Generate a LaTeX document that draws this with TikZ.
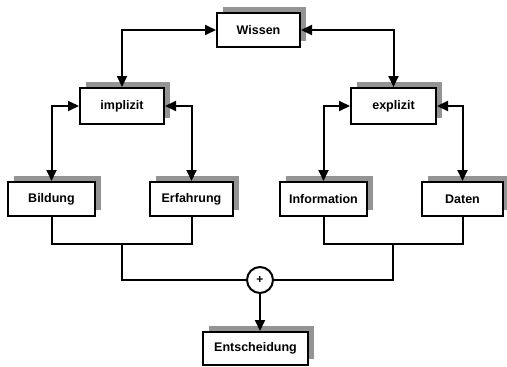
\documentclass[tikz,border=0pt]{standalone}
\usepackage{fontspec}
\setmainfont{Liberation Sans}
\usetikzlibrary{arrows.meta,shadows}
\tikzset{
  box/.style={draw=black, line width=2pt, fill=white, rectangle, minimum height=34pt,
    inner sep=0pt, font=\bfseries\fontsize{12.5}{14}\selectfont,
    general shadow={fill=black!42, shadow xshift=6pt, shadow yshift=6pt}},
  conn/.style={line width=2pt},
  tip/.style={-{Triangle[length=11pt,width=10pt]}},
  tips/.style={{Triangle[length=11pt,width=10pt]}-{Triangle[length=11pt,width=10pt]}},
  sumnode/.style={draw=black, line width=2pt, circle, minimum size=26pt, inner sep=0pt, fill=white,
    font=\bfseries\fontsize{12}{14}\selectfont}
}
\begin{document}
\begin{tikzpicture}[x=1pt,y=-1pt]
\useasboundingbox (0,0) rectangle (507,367);
\node[box, minimum width=83pt, minimum height=34pt] (wissen) at (258.5,30) {Wissen};
\node[box, minimum width=84pt, minimum height=36pt] (impl) at (122,106) {implizit};
\node[box, minimum width=85pt, minimum height=36pt] (expl) at (393.5,106) {explizit};
\node[box, minimum width=87pt] (bild) at (51.5,199) {Bildung};
\node[box, minimum width=83pt] (erf) at (191.5,199) {Erfahrung};
\node[box, minimum width=87pt] (info) at (323.5,199) {Information};
\node[box, minimum width=81pt] (dat) at (462.5,199) {Daten};
\node[sumnode] (plus) at (260,280) {+};
\node[box, minimum width=105pt, minimum height=33pt] (ent) at (255.5,348.5) {Entscheidung};
\coordinate (lj) at (121.5,243.5);
\coordinate (rj) at (393,243.5);
% connectors
\draw[conn,tips] (impl.north) |- (wissen.west);
\draw[conn,tips] (wissen.east) -| (expl.north);
\draw[conn,tips] (impl.west) -| (bild.north);
\draw[conn,tips] (impl.east) -| (erf.north);
\draw[conn,tips] (expl.west) -| (info.north);
\draw[conn,tips] (expl.east) -| (dat.north);
\draw[conn] (bild.south) |- (lj) -| (erf.south);
\draw[conn] (info.south) |- (rj) -| (dat.south);
\draw[conn] (lj) |- (plus.west);
\draw[conn] (rj) |- (plus.east);
\draw[conn,tip] (plus.south) -- (plus.south |- ent.north);
\end{tikzpicture}
\end{document}
